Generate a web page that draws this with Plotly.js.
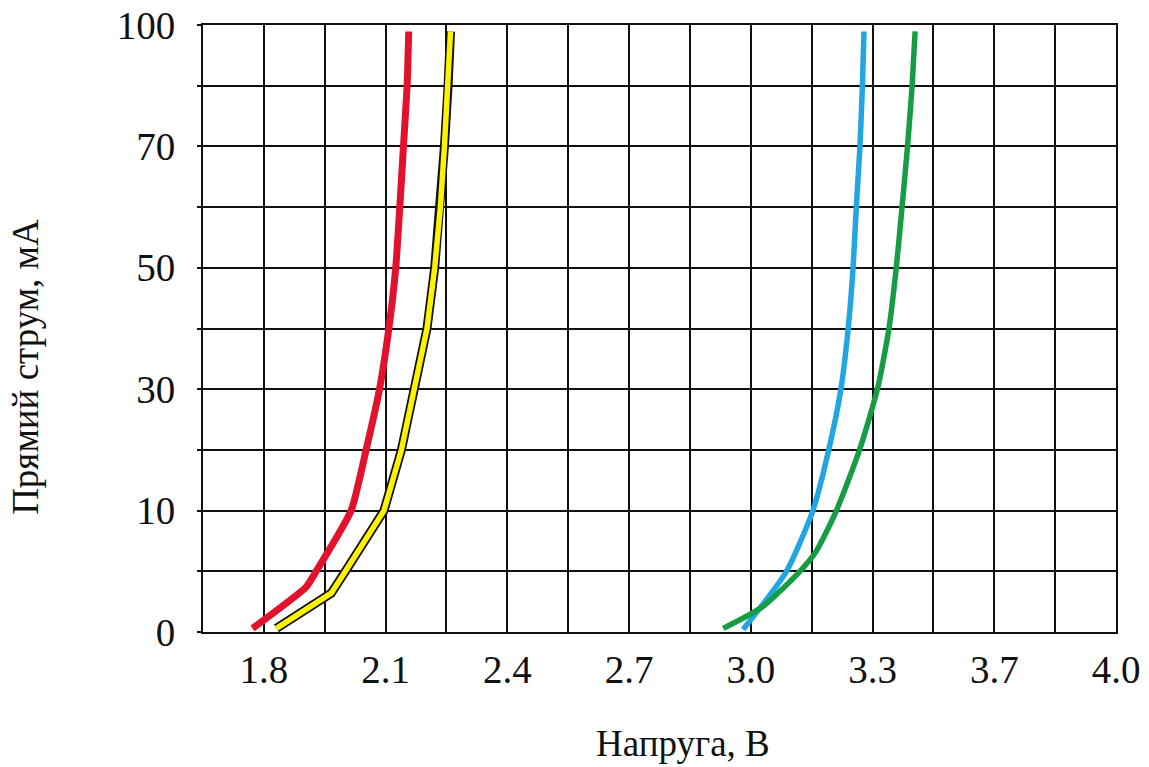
<!DOCTYPE html>
<html>
<head>
<meta charset="utf-8">
<script src="https://cdn.plot.ly/plotly-3.0.1.min.js"></script>
<style>html,body{margin:0;padding:0;background:#fff;}#chart{width:1149px;height:767px;}</style>
</head>
<body>
<div id="chart"></div>
<script>
// Axis tick labels (the chart uses evenly spaced, non-uniform tick values)
const xTicks = [1.8, 2.1, 2.4, 2.7, 3.0, 3.3, 3.7, 4.0];
const yTicks = [0, 10, 30, 50, 70, 100];

// Series: voltage (V) and forward current (mA)
const redV = [1.772, 1.904, 1.929, 2.015, 2.052, 2.085, 2.108, 2.125, 2.135, 2.144, 2.153, 2.157];
const redI = [0.3, 3.7, 5, 10, 20, 30, 40, 50, 60, 70, 85, 98.4];

const yellowV = [1.831, 1.966, 2.001, 2.096, 2.139, 2.171, 2.202, 2.221, 2.235, 2.245, 2.254, 2.260];
const yellowI = [0.3, 3.2, 5, 10, 20, 30, 40, 50, 60, 70, 85, 98.4];

const blueV = [2.981, 3.088, 3.153, 3.192, 3.222, 3.240, 3.252, 3.260, 3.269, 3.275, 3.279];
const blueI = [0.2, 5, 10, 20, 30, 40, 50, 60, 70, 85, 98.4];

const greenV = [2.932, 3.030, 3.121, 3.162, 3.211, 3.268, 3.316, 3.354, 3.378, 3.397, 3.415, 3.430, 3.440];
const greenI = [0.3, 2.1, 5, 6.7, 10, 20, 30, 40, 50, 60, 70, 85, 98.4];

// Piecewise-linear mapping of a value onto the evenly spaced tick index scale
function toIndex(v, ticks) {
  let i = 0;
  while (i < ticks.length - 2 && v > ticks[i + 1]) i++;
  return i + (v - ticks[i]) / (ticks[i + 1] - ticks[i]);
}
const mapX = arr => arr.map(v => toIndex(v, xTicks));
const mapY = arr => arr.map(v => toIndex(v, yTicks));

// tick positions every half step (grid), labels on whole steps
const xVals = [], xText = [];
for (let k = -1; k <= 2 * (xTicks.length - 1); k++) {
  xVals.push(k / 2);
  xText.push(k >= 0 && k % 2 === 0 ? xTicks[k / 2].toFixed(1) : '');
}
const yVals = [], yText = [];
for (let k = 0; k <= 2 * (yTicks.length - 1); k++) {
  yVals.push(k / 2);
  yText.push(k % 2 === 0 ? String(yTicks[k / 2]) : '');
}

const traces = [
  {x: mapX(redV), y: mapY(redI), mode: 'lines', line: {color: '#E3122C', width: 7, shape: 'spline', smoothing: 0.5}, name: 'red'},
  {x: mapX(yellowV), y: mapY(yellowI), mode: 'lines', line: {color: '#111111', width: 9}, name: 'yellow-outline'},
  {x: mapX(yellowV), y: mapY(yellowI), mode: 'lines', line: {color: '#FFF200', width: 5.5}, name: 'yellow'},
  {x: mapX(blueV), y: mapY(blueI), mode: 'lines', line: {color: '#22A6E2', width: 5.5, shape: 'spline', smoothing: 0.6}, name: 'blue'},
  {x: mapX(greenV), y: mapY(greenI), mode: 'lines', line: {color: '#169C45', width: 5.5, shape: 'spline', smoothing: 0.6}, name: 'green'}
];

const family = '"Liberation Serif", "Times New Roman", serif';
const tickFont = {family: family, size: 39, color: '#111'};
const titleFont = {family: family, size: 37, color: '#111'};

const layout = {
  width: 1149, height: 767,
  margin: {l: 203, r: 33, t: 25, b: 135},
  paper_bgcolor: '#fff', plot_bgcolor: '#fff',
  showlegend: false,
  font: titleFont,
  xaxis: {
    range: [-0.5, xTicks.length - 1], tickmode: 'array', tickvals: xVals, ticktext: xText,
    showgrid: true, gridcolor: '#111', gridwidth: 2, zeroline: false,
    showline: true, linecolor: '#111', linewidth: 2, mirror: true,
    ticks: '', tickfont: tickFont, ticklabelstandoff: 2, fixedrange: true
  },
  yaxis: {
    range: [0, yTicks.length - 1], tickmode: 'array', tickvals: yVals, ticktext: yText,
    showgrid: true, gridcolor: '#111', gridwidth: 2, zeroline: false,
    showline: true, linecolor: '#111', linewidth: 2, mirror: true,
    ticks: 'outside', ticklen: 4, tickwidth: 2, tickcolor: '#111',
    tickfont: tickFont, ticklabelstandoff: 14, fixedrange: true
  },
  annotations: [
    {text: 'Напруга, В', xref: 'paper', yref: 'paper', x: 0.5257, y: -0.183, xanchor: 'center', yanchor: 'middle', showarrow: false, font: titleFont},
    {text: 'Прямий струм, мА', xref: 'paper', yref: 'paper', x: -0.194, y: 0.4366, xanchor: 'center', yanchor: 'middle', textangle: -90, showarrow: false, font: titleFont}
  ]
};

Plotly.newPlot('chart', traces, layout, {displayModeBar: false, staticPlot: true});
</script>
</body>
</html>
